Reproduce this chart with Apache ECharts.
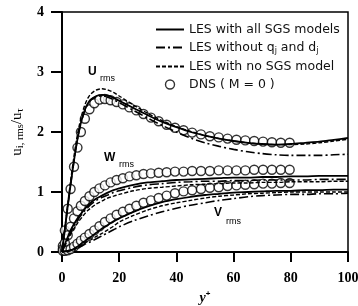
<!DOCTYPE html>
<html lang="en">
<head>
<meta charset="UTF-8">
<title>rms velocity fluctuations</title>
<script src="https://cdn.jsdelivr.net/npm/echarts@6/dist/echarts.min.js"></script>
<style>html,body{margin:0;padding:0;background:#fff;}</style>
</head>
<body>
<div id="main" style="width:358px;height:306px;"></div>
<script type="text/javascript">
// LES curves, all on the same y+ stations
var yPlus = [0, 1, 2, 3, 4, 5, 6, 7, 8, 9, 10, 12, 14, 16, 18, 20, 25, 30, 35, 40, 45, 50, 55, 60, 65, 70, 75, 80, 85, 90, 95, 100];

var uAll   = [0, 0.38, 0.76, 1.12, 1.46, 1.77, 2.03, 2.22, 2.37, 2.47, 2.54, 2.60, 2.62, 2.61, 2.57, 2.52, 2.40, 2.28, 2.17, 2.08, 2.00, 1.94, 1.89, 1.85, 1.82, 1.80, 1.79, 1.80, 1.82, 1.84, 1.87, 1.90];
var uNoQD  = [0, 0.38, 0.76, 1.12, 1.46, 1.77, 2.02, 2.21, 2.36, 2.46, 2.53, 2.59, 2.60, 2.58, 2.54, 2.49, 2.36, 2.23, 2.11, 2.00, 1.90, 1.82, 1.76, 1.71, 1.67, 1.64, 1.62, 1.61, 1.61, 1.61, 1.62, 1.63];
var uNoSGS = [0, 0.40, 0.80, 1.18, 1.53, 1.85, 2.10, 2.30, 2.45, 2.56, 2.63, 2.70, 2.72, 2.70, 2.66, 2.60, 2.45, 2.31, 2.19, 2.09, 2.01, 1.94, 1.89, 1.85, 1.82, 1.80, 1.79, 1.79, 1.80, 1.82, 1.85, 1.88];

var wAll   = [0, 0.13, 0.25, 0.36, 0.45, 0.53, 0.60, 0.66, 0.72, 0.77, 0.82, 0.89, 0.94, 0.99, 1.03, 1.06, 1.12, 1.16, 1.18, 1.20, 1.21, 1.22, 1.23, 1.24, 1.24, 1.25, 1.25, 1.26, 1.26, 1.27, 1.27, 1.27];
var wNoQD  = [0, 0.12, 0.22, 0.32, 0.42, 0.50, 0.57, 0.63, 0.69, 0.74, 0.79, 0.86, 0.91, 0.95, 0.99, 1.02, 1.08, 1.12, 1.14, 1.16, 1.17, 1.18, 1.18, 1.19, 1.19, 1.20, 1.20, 1.20, 1.20, 1.21, 1.21, 1.21];
var wNoSGS = [0, 0.10, 0.20, 0.29, 0.38, 0.45, 0.52, 0.58, 0.64, 0.69, 0.73, 0.80, 0.85, 0.90, 0.93, 0.96, 1.02, 1.06, 1.08, 1.10, 1.12, 1.13, 1.14, 1.15, 1.15, 1.16, 1.16, 1.17, 1.17, 1.17, 1.18, 1.18];

var vAll   = [0, 0.01, 0.02, 0.03, 0.05, 0.08, 0.11, 0.15, 0.18, 0.22, 0.25, 0.32, 0.39, 0.45, 0.51, 0.56, 0.67, 0.76, 0.83, 0.88, 0.92, 0.95, 0.97, 0.99, 1.00, 1.01, 1.02, 1.02, 1.03, 1.03, 1.04, 1.04];
var vNoQD  = [0, 0.01, 0.01, 0.02, 0.03, 0.05, 0.08, 0.10, 0.13, 0.15, 0.17, 0.22, 0.27, 0.32, 0.37, 0.42, 0.52, 0.60, 0.67, 0.73, 0.78, 0.82, 0.86, 0.89, 0.92, 0.94, 0.95, 0.96, 0.96, 0.97, 0.97, 0.98];
var vNoSGS = [0, 0.01, 0.02, 0.03, 0.04, 0.06, 0.09, 0.12, 0.15, 0.18, 0.20, 0.26, 0.31, 0.37, 0.43, 0.50, 0.61, 0.70, 0.77, 0.82, 0.86, 0.90, 0.93, 0.95, 0.97, 0.98, 0.99, 1.00, 1.00, 1.00, 1.00, 1.00];

// DNS points (M = 0)
var dnsY = [0.3, 1, 2, 3, 4.2, 5.4, 6.6, 8, 9.6, 11.3, 13.1, 15, 17, 19.1, 21.3, 23.6, 26, 28.5, 31.1, 33.8, 36.6, 39.5, 42.5, 45.5, 48.6, 51.7, 54.8, 57.9, 61, 64.1, 67.2, 70.3, 73.4, 76.5, 79.6];
var uDns = [0.10, 0.36, 0.72, 1.05, 1.42, 1.74, 2.00, 2.22, 2.38, 2.48, 2.54, 2.55, 2.53, 2.50, 2.46, 2.41, 2.36, 2.30, 2.24, 2.18, 2.12, 2.07, 2.03, 1.99, 1.96, 1.93, 1.91, 1.89, 1.87, 1.86, 1.85, 1.84, 1.83, 1.82, 1.82];
var wDns = [0.05, 0.15, 0.28, 0.42, 0.56, 0.68, 0.77, 0.85, 0.93, 1.00, 1.06, 1.11, 1.16, 1.20, 1.23, 1.26, 1.28, 1.30, 1.31, 1.32, 1.33, 1.34, 1.34, 1.35, 1.35, 1.35, 1.36, 1.36, 1.36, 1.36, 1.37, 1.37, 1.37, 1.37, 1.37];
var vDns = [0.02, 0.02, 0.03, 0.05, 0.09, 0.14, 0.19, 0.24, 0.30, 0.36, 0.43, 0.50, 0.56, 0.62, 0.67, 0.72, 0.77, 0.82, 0.86, 0.90, 0.94, 0.98, 1.01, 1.03, 1.05, 1.07, 1.08, 1.10, 1.11, 1.12, 1.13, 1.14, 1.14, 1.15, 1.15];

var xTicks = [0, 20, 40, 60, 80, 100];
var yTicks = [0, 1, 2, 3, 4];

var names = ['LES with all SGS models', 'LES without qj and dj', 'LES with no SGS model', 'DNS ( M = 0 )'];

function pairs(xs, ys) {
    return xs.map(function (x, i) { return [x, ys[i]]; });
}

var myChart = echarts.init(document.getElementById('main'));

var lineStyles = [
    {color: '#000', width: 1.8, type: 'solid'},
    {color: '#000', width: 1.6, type: [9, 3, 2, 3]},
    {color: '#000', width: 1.4, type: [4, 2]}
];
var groups = [[uAll, uNoQD, uNoSGS], [wAll, wNoQD, wNoSGS], [vAll, vNoQD, vNoSGS]];

var series = [];
// DNS circles first so the LES lines draw on top of them
[uDns, wDns, vDns].forEach(function (d) {
    series.push({
        name: names[3],
        type: 'scatter',
        data: pairs(dnsY, d),
        symbol: 'circle',
        symbolSize: 9,
        itemStyle: {color: '#fff', borderColor: '#000', borderWidth: 1.4},
        z: 2
    });
});
groups.forEach(function (g) {
    g.forEach(function (d, k) {
        series.push({
            name: names[k],
            type: 'line',
            data: pairs(yPlus, d),
            symbol: 'none',
            smooth: 0.3,
            lineStyle: lineStyles[k],
            itemStyle: {color: '#000'},
            z: 3
        });
    });
});

// legend: lines without the marker dot, hollow circle for DNS
var noDot = {color: 'rgba(0,0,0,0)', borderWidth: 0, opacity: 0};
var legendData = [
    {name: names[0], itemStyle: noDot},
    {name: names[1], itemStyle: noDot},
    {name: names[2], itemStyle: noDot},
    {name: names[3], icon: 'circle', itemStyle: {color: '#fff', borderColor: '#000', borderWidth: 1.4}}
];

var option = {
    animation: false,
    backgroundColor: '#fff',
    grid: {
        left: 62, right: 10, top: 12, bottom: 54,
        outerBoundsMode: 'none',
        show: true, borderColor: '#000', borderWidth: 1.5
    },
    legend: {
        data: legendData,
        orient: 'vertical',
        left: 150,
        top: 18,
        itemWidth: 28,
        itemHeight: 9,
        itemGap: 5,
        formatter: function (name) {
            if (name === names[1]) {
                return '{t|LES without q}{s|j}{t| and d}{s|j}';
            }
            return '{t|' + name + '}';
        },
        textStyle: {
            rich: {
                t: {fontFamily: 'DejaVu Sans', fontSize: 12.5, color: '#111', lineHeight: 15},
                s: {fontFamily: 'DejaVu Sans', fontSize: 8, color: '#111', verticalAlign: 'bottom'}
            }
        }
    },
    xAxis: {
        type: 'value',
        min: 0,
        max: 100,
        interval: 20,
        name: '{a|y}{b|+}',
        nameLocation: 'middle',
        nameGap: 33,
        nameTextStyle: {
            rich: {
                a: {fontFamily: 'Liberation Serif', fontWeight: 'bold', fontStyle: 'italic', fontSize: 14, color: '#000', lineHeight: 16},
                b: {fontFamily: 'Liberation Sans', fontWeight: 'bold', fontSize: 8, color: '#000', verticalAlign: 'top'}
            }
        },
        axisLine: {lineStyle: {color: '#000', width: 2}},
        axisTick: {length: 10, lineStyle: {color: '#000', width: 2}},
        splitLine: {show: false},
        axisLabel: {
            margin: 19,
            color: '#000',
            fontFamily: 'Liberation Serif',
            fontWeight: 'bold',
            fontSize: 14,
            formatter: function (v) { return xTicks.indexOf(v) >= 0 ? String(v) : ''; }
        }
    },
    yAxis: {
        type: 'value',
        min: 0,
        max: 4,
        interval: 1,
        name: '{a|u}{s|i, rms}{a|/u}{s|τ}',
        nameLocation: 'middle',
        nameGap: 35,
        nameTextStyle: {
            rich: {
                a: {fontFamily: 'Liberation Serif', fontSize: 15, color: '#000', lineHeight: 18},
                s: {fontFamily: 'Liberation Serif', fontSize: 10.5, color: '#000', verticalAlign: 'bottom'}
            }
        },
        axisLine: {lineStyle: {color: '#000', width: 2}},
        axisTick: {length: 11, lineStyle: {color: '#000', width: 2}},
        splitLine: {show: false},
        axisLabel: {
            margin: 18,
            color: '#000',
            fontFamily: 'Liberation Serif',
            fontWeight: 'bold',
            fontSize: 14,
            formatter: function (v) { return yTicks.indexOf(v) >= 0 ? String(v) : ''; }
        }
    },
    graphic: [
        {type: 'text', left: 88, top: 66, style: {text: 'U', font: 'bold 12px "Liberation Sans"', fill: '#000'}},
        {type: 'text', left: 100, top: 74, style: {text: 'rms', font: '9px "Liberation Sans"', fill: '#000'}},
        {type: 'text', left: 104, top: 152, style: {text: 'W', font: 'bold 12px "Liberation Sans"', fill: '#000'}},
        {type: 'text', left: 119, top: 160, style: {text: 'rms', font: '9px "Liberation Sans"', fill: '#000'}},
        {type: 'text', left: 214, top: 207, style: {text: 'V', font: 'bold 12px "Liberation Sans"', fill: '#000'}},
        {type: 'text', left: 226, top: 217, style: {text: 'rms', font: '9px "Liberation Sans"', fill: '#000'}}
    ],
    series: series
};

myChart.setOption(option);
</script>
</body>
</html>
